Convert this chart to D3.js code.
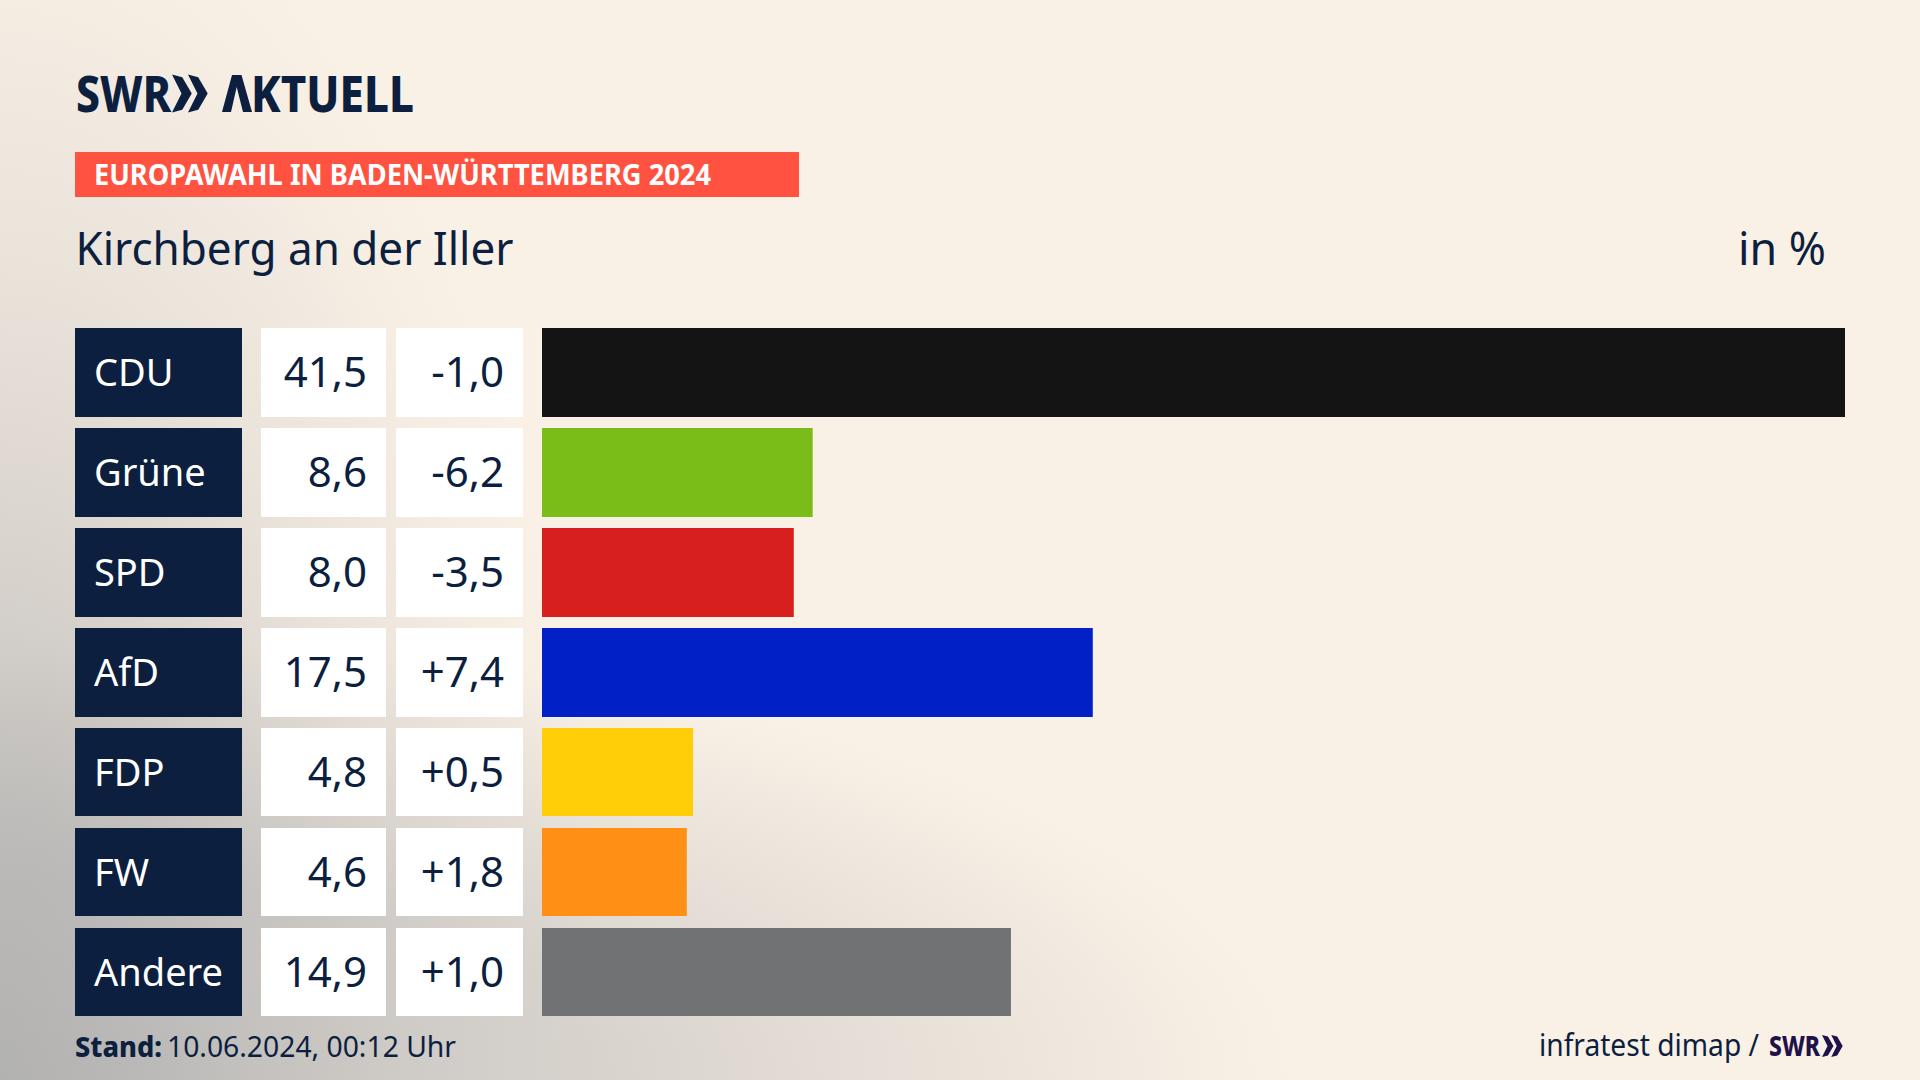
<!DOCTYPE html>
<html><head><meta charset="utf-8">
<style>html,body{margin:0;padding:0;background:#FAF1E6}svg{display:block}text{font-family:"Noto Sans",sans-serif}</style>
<script src="https://cdn.jsdelivr.net/npm/d3@7/dist/d3.min.js"></script>
</head><body><svg id="c" width="1920" height="1080"></svg>
<script>
const parties=["CDU","Grüne","SPD","AfD","FDP","FW","Andere"];
const shares=[41.5,8.6,8.0,17.5,4.8,4.6,14.9];
const changes=["-1,0","-6,2","-3,5","+7,4","+0,5","+1,8","+1,0"];
const barColors=["#141414","#7ABD18","#D7201D","#0121C6","#FFCE08","#FF9015","#707274"];
const NAVY="#0C1F3F";
const W=1920,H=1080;
const svg=d3.select("#c");
const defs=svg.append("defs");
function glow(id,rx,ry,stops){
 const g=defs.append("radialGradient").attr("id",id).attr("gradientUnits","userSpaceOnUse")
  .attr("cx",0).attr("cy",0).attr("r",1).attr("gradientTransform",`translate(0,1080) scale(${rx},${ry})`);
 stops.forEach(d=>g.append("stop").attr("offset",d[0]).attr("stop-color","#AEAEAE").attr("stop-opacity",d[1]));
}
glow("tall",600,1250,[[0,.85],[.22,.66],[.46,.4],[.66,.2],[.86,.07],[1,0]]);
glow("flat",1300,450,[[0,.6],[.19,.485],[.46,.45],[.77,.19],[.96,.03],[1,0]]);
svg.append("rect").attr("width",W).attr("height",H).attr("fill","#FAF1E6");
svg.append("rect").attr("width",W).attr("height",H).attr("fill","url(#tall)");
svg.append("rect").attr("width",W).attr("height",H).attr("fill","url(#flat)");

const x=d3.scaleLinear().domain([0,41.4]).range([542,1845]).clamp(true);
const y=d3.scaleBand().domain(parties).range([328,1016.5]).paddingInner(0.115);
const fmt=v=>v.toFixed(1).replace(".",",");
const rowH=(d,i)=>i<4?89:88;

function fit(sel,w){
 sel.each(function(){this.setAttribute("textLength",w);this.setAttribute("lengthAdjust","spacingAndGlyphs");});
 return sel;
}
// squeezes a text to a width with a transform, so its box really is that wide
function squeeze(sel,x0,y0,w){
 const natural=sel.node().getComputedTextLength();
 return sel.attr("transform",`translate(${x0},${y0}) scale(${w/natural},1)`);
}
function chevrons(x0,yc,h,col){
 const a=h/2,t=h*0.27,tip=h*0.25,g=svg.append("g").attr("fill",col);
 [0,1].forEach(i=>{
  const ox=x0+i*(h*0.42);
  g.append("path").attr("d",`M${ox},${yc-a} L${ox+t},${yc-a*0.86} L${ox+t+tip},${yc} L${ox+t},${yc+a*0.86} L${ox},${yc+a} L${ox+tip},${yc} Z`);
 });
}
// logo
squeeze(svg.append("text").attr("font-size",50).attr("font-weight",800).attr("fill",NAVY).text("SWR"),76,111.5,95);
chevrons(172,93.5,38,NAVY);
const ak=svg.append("text").attr("font-size",50).attr("font-weight",800).attr("fill",NAVY);
ak.append("tspan").attr("fill-opacity",0).text("A");
ak.append("tspan").text("KTUELL");
squeeze(ak,220,111.5,194);
svg.append("path").attr("fill",NAVY).attr("d","M222,112 L232,75 L241.5,75 L252,112 L243,112 L236.7,87 L231,112 Z");
// banner
svg.append("rect").attr("x",75).attr("y",152).attr("width",724).attr("height",45).attr("fill","#FF5240");
fit(svg.append("text").attr("x",94).attr("y",185).attr("font-size",28).attr("font-weight",700).attr("fill","#fff").text("EUROPAWAHL IN BADEN-WÜRTTEMBERG 2024"),617);
// title
fit(svg.append("text").attr("x",75.5).attr("y",265).attr("font-size",45).attr("fill",NAVY).text("Kirchberg an der Iller"),438);
fit(svg.append("text").attr("x",1738).attr("y",265).attr("font-size",45).attr("fill",NAVY).text("in %"),88);

const rows=svg.selectAll("g.row").data(parties).join("g").attr("class","row");
rows.append("rect").attr("x",75).attr("y",d=>y(d)).attr("width",167).attr("height",rowH).attr("fill",NAVY);
rows.append("rect").attr("x",261).attr("y",d=>y(d)).attr("width",125).attr("height",rowH).attr("fill","#fff");
rows.append("rect").attr("x",396).attr("y",d=>y(d)).attr("width",127).attr("height",rowH).attr("fill","#fff");
rows.append("rect").attr("x",x(0)).attr("y",d=>y(d)).attr("width",(d,i)=>x(shares[i])-x(0)).attr("height",rowH).attr("fill",(d,i)=>barColors[i]);
rows.append("text").attr("x",94).attr("y",d=>y(d)+58).attr("font-size",38).attr("fill","#fff").text(d=>d);
rows.append("text").attr("x",367).attr("y",d=>y(d)+58.5).attr("font-size",42).attr("text-anchor","end").attr("fill",NAVY).text((d,i)=>fmt(shares[i]));
rows.append("text").attr("x",504).attr("y",d=>y(d)+58.5).attr("font-size",42).attr("text-anchor","end").attr("fill",NAVY).text((d,i)=>changes[i]);
// footer
fit(svg.append("text").attr("x",75).attr("y",1057).attr("font-size",29).attr("font-weight",800).attr("fill",NAVY).text("Stand:"),87);
fit(svg.append("text").attr("x",167).attr("y",1057).attr("font-size",29).attr("fill",NAVY).text("10.06.2024, 00:12 Uhr"),289);
fit(svg.append("text").attr("x",1539).attr("y",1056).attr("font-size",30).attr("fill",NAVY).text("infratest dimap /"),220);
fit(svg.append("text").attr("x",1769).attr("y",1056).attr("font-size",28).attr("font-weight",800).attr("fill","#21114B").text("SWR"),51);
chevrons(1822,1046,22,"#21114B");
</script></body></html>
